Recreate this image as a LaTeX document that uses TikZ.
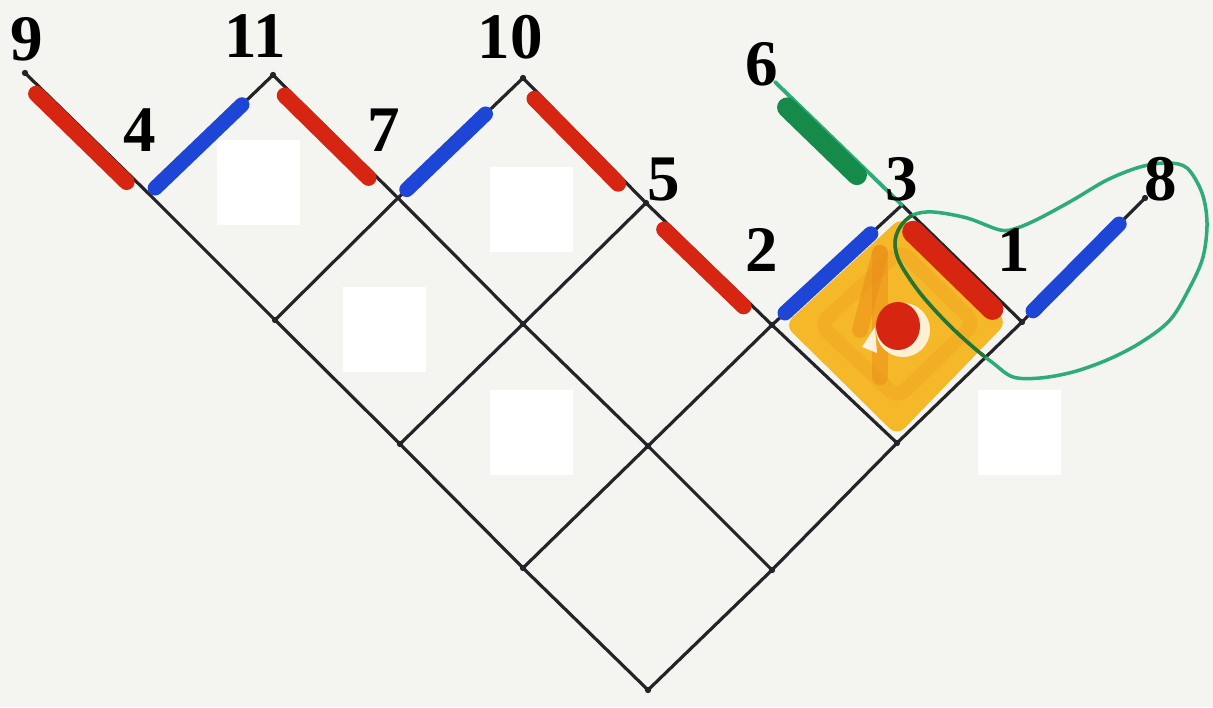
\documentclass[tikz,border=0pt]{standalone}
\usepackage{fontspec}
\setmainfont{Liberation Serif}
\usetikzlibrary{calc}
\definecolor{nen}{RGB}{244,245,240}
\definecolor{mucden}{RGB}{35,35,40}
\definecolor{mkred}{RGB}{214,38,18}
\definecolor{mkblue}{RGB}{30,70,214}
\definecolor{mkgreen}{RGB}{22,138,72}
\definecolor{xanhnhat}{RGB}{45,172,122}
\definecolor{xanhdam}{RGB}{40,115,45}
\definecolor{cam}{RGB}{245,184,40}
\definecolor{camdam}{RGB}{234,140,24}
% duong vong xanh
\def\vong{plot[smooth cycle, tension=0.55] coordinates {(9.00,4.80) (9.13,4.92) (9.33,4.95) (9.67,4.89) (10.00,4.77) (10.17,4.79) (10.40,4.89) (10.73,5.07) (11.07,5.27) (11.40,5.40) (11.67,5.44) (11.87,5.39) (12.02,5.14) (12.07,4.84) (12.03,4.50) (11.90,4.20) (11.70,3.87) (11.40,3.64) (11.07,3.47) (10.73,3.35) (10.40,3.29) (10.13,3.30) (9.93,3.44) (9.73,3.60) (9.47,3.84) (9.20,4.14) (9.00,4.44) (8.95,4.64)}}

\begin{document}
\begin{tikzpicture}[
    grid/.style={draw=mucden, line width=0.9pt, line cap=round, line join=round},
    redmk/.style={draw=mkred, line width=1.6mm, line cap=round},
    bluemk/.style={draw=mkblue, line width=1.5mm, line cap=round},
    greenmk/.style={draw=mkgreen, line width=2mm, line cap=round},
    lbl/.style={font=\fontsize{18.5}{22}\selectfont\bfseries, inner sep=0pt}
]
            % Nen
            \fill[nen] (0,0) rectangle (12.13,7.07);
            \useasboundingbox (0,0) rectangle (12.13,7.07);
            % Cac dinh cua luoi
            \coordinate (O) at (6.48,0.17);
            \coordinate (A) at (5.23,1.39);
            \coordinate (B) at (4.00,2.63);
            \coordinate (C) at (2.75,3.87);
            \coordinate (P4) at (1.49,5.13);
            \coordinate (P9) at (0.25,6.34);
            \coordinate (D) at (7.72,1.37);
            \coordinate (E) at (6.48,2.61);
            \coordinate (F) at (5.23,3.83);
            \coordinate (P7) at (3.98,5.09);
            \coordinate (P11) at (2.73,6.32);
            \coordinate (G) at (8.97,2.64);
            \coordinate (P2) at (7.72,3.82);
            \coordinate (P5) at (6.46,5.04);
            \coordinate (P10) at (5.23,6.29);
            \coordinate (P1) at (10.22,3.85);
            \coordinate (P3) at (9.02,5.02);
            \coordinate (P6) at (7.75,6.25);
            \coordinate (P8) at (11.45,5.09);
            \coordinate (Q) at (8.98,3.83);
            % To o mau cam
            \fill[cam, rounded corners=3pt] ($(Q)!0.94!(G)$) -- ($(Q)!0.9!(P2)$) -- ($(Q)!0.9!(P3)$) -- ($(Q)!0.88!(P1)$) -- cycle;
            \draw[camdam, opacity=0.22, line width=1.4mm, rounded corners=3pt] ($(Q)!0.62!(G)$) -- ($(Q)!0.62!(P2)$) -- ($(Q)!0.62!(P3)$) -- ($(Q)!0.62!(P1)$) -- cycle;
            \draw[camdam, opacity=0.5, line width=1.6mm, line cap=round] (8.80,4.54) -- (8.60,3.77);
            \draw[camdam, opacity=0.5, line width=1.6mm, line cap=round] (8.80,4.54) -- (8.80,3.30);
            \fill[white, opacity=0.85] (8.62,3.60) -- (8.75,3.80) -- (8.77,3.54) -- cycle;
            \fill[white!80!cam] (9.03,3.77) ellipse [x radius=0.27, y radius=0.27];
            % Luoi
            \draw[grid] (P9) -- (P4) -- (C) -- (B) -- (A) -- (O);
            \draw[grid] (P11) -- (P7) -- (F) -- (E) -- (D);
            \draw[grid] (P10) -- (P5) -- (P2) -- (G);
            \draw[grid] (P3) -- (P1);
            \draw[grid] (O) -- (D) -- (G) -- (P1) -- (P8);
            \draw[grid] (A) -- (E) -- (P2) -- (P3);
            \draw[grid] (B) -- (F) -- (P5);
            \draw[grid] (C) -- (P7) -- (P10);
            \draw[grid] (P4) -- (P11);
            % Cac diem
            \fill[mucden] (O) circle (0.9pt);
            \fill[mucden] (A) circle (0.9pt);
            \fill[mucden] (B) circle (0.9pt);
            \fill[mucden] (C) circle (0.9pt);
            \fill[mucden] (D) circle (0.9pt);
            \fill[mucden] (E) circle (0.9pt);
            \fill[mucden] (F) circle (0.9pt);
            \fill[mucden] (G) circle (0.9pt);
            \fill[mucden] (P9) circle (0.9pt);
            \fill[mucden] (P11) circle (0.9pt);
            \fill[mucden] (P10) circle (0.9pt);
            \fill[mucden] (P5) circle (0.9pt);
            \fill[mucden] (P2) circle (0.9pt);
            \fill[mucden] (P1) circle (0.9pt);
            \fill[mucden] (P8) circle (0.9pt);
            % Canh xanh la 6 - 3
            \draw[xanhnhat, line width=1.1pt, line cap=round] (P6) -- (P3);
            % Cac vet but do
            \draw[redmk] ($(P9)!0.13!(P4)+(-0.05,-0.05)$) -- ($(P9)!0.86!(P4)+(-0.05,-0.05)$);
            \draw[redmk] ($(P11)!0.13!(P7)+(-0.045,-0.045)$) -- ($(P11)!0.80!(P7)+(-0.045,-0.045)$);
            \draw[redmk] ($(P10)!0.13!(P5)+(-0.045,-0.045)$) -- ($(P10)!0.81!(P5)+(-0.045,-0.045)$);
            \draw[redmk] ($(P5)!0.18!(P2)+(-0.045,-0.045)$) -- ($(P5)!0.81!(P2)+(-0.045,-0.045)$);
            \draw[redmk, line width=2.2mm] ($(P3)!0.16!(P1)+(-0.08,-0.08)$) -- ($(P3)!0.82!(P1)+(-0.08,-0.08)$);
            % Cac vet but xanh
            \draw[bluemk] ($(P4)!0.05!(P11)$) -- ($(P4)!0.75!(P11)$);
            \draw[bluemk] ($(P7)!0.07!(P10)$) -- ($(P7)!0.70!(P10)$);
            \draw[bluemk] ($(P2)!0.10!(P3)$) -- ($(P2)!0.76!(P3)$);
            \draw[bluemk] ($(P1)!0.09!(P8)$) -- ($(P1)!0.79!(P8)$);
            % Vet but xanh la
            \draw[greenmk] ($(P6)!0.15!(P3)+(-0.07,-0.07)$) -- ($(P6)!0.70!(P3)+(-0.07,-0.07)$);
            % Cham do
            \fill[mkred] (8.98,3.81) ellipse [x radius=0.22, y radius=0.24];
            % Duong vong
            \draw[xanhnhat, line width=1pt] \vong;
            \begin{scope}
                \clip (G) -- (P2) -- (P3) -- (P1) -- cycle;
                \draw[xanhdam, line width=1pt] \vong;
            \end{scope}
            % O trang
            \fill[white] (2.17,4.82) rectangle (3.00,5.67);
            \fill[white] (4.90,4.55) rectangle (5.73,5.40);
            \fill[white] (3.43,3.35) rectangle (4.26,4.20);
            \fill[white] (4.90,2.32) rectangle (5.73,3.17);
            \fill[white] (9.78,2.32) rectangle (10.61,3.17);
            % Nhan
            \node[lbl] (n9) at (0.27,6.68) {9};
            \node[lbl] (n11) at (2.55,6.71) {11};
            \node[lbl] (n10) at (5.10,6.70) {10};
            \node[lbl] (n6) at (7.62,6.43) {6};
            \node[lbl] (n4) at (1.40,5.77) {4};
            \node[lbl] (n7) at (3.84,5.77) {7};
            \node[lbl] (n5) at (6.64,5.27) {5};
            \node[lbl] (n3) at (9.02,5.28) {3};
            \node[lbl] (n8) at (11.61,5.28) {8};
            \node[lbl] (n2) at (7.62,4.57) {2};
            \node[lbl] (n1) at (10.14,4.57) {1};
        \end{tikzpicture}
\end{document}
